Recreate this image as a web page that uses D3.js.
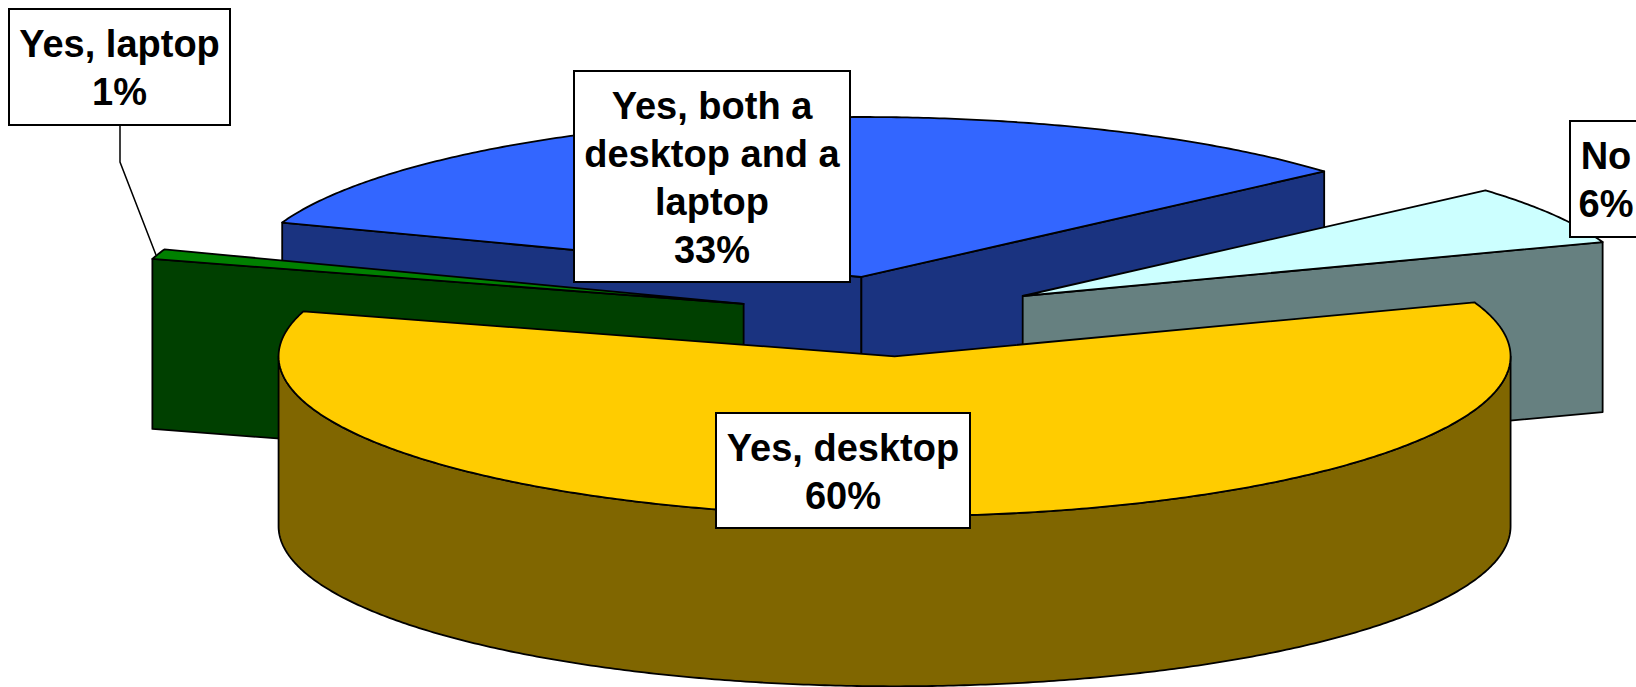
<!DOCTYPE html>
<html>
<head>
<meta charset="utf-8">
<script src="https://cdn.jsdelivr.net/npm/d3@7"></script>
<style>
  html, body { margin: 0; padding: 0; background: #fff; overflow: hidden; }
  text { font-family: "Liberation Sans", Arial, Helvetica, sans-serif; font-weight: bold; }
</style>
</head>
<body>
<svg id="chart" width="1636" height="687"></svg>
<script>
// ---- data ----
const categories = ["Yes, desktop", "Yes, laptop", "Yes, both a desktop and a laptop", "No"];
const values = [60, 1, 33, 6];
const labelLines = [["Yes, desktop"], ["Yes, laptop"], ["Yes, both a", "desktop and a", "laptop"], ["No"]];
const topColors = ["#FFCC00", "#008000", "#3366FF", "#CCFFFF"];
const sideColors = ["#806600", "#004000", "#1A3380", "#668080"];

// ---- layout ----
const W = 1636, H = 687;
const cx = 890, cy = 316.3;        // pie centre on screen
const rx = 616, ry = 160;          // ellipse radii of the tilted top face
const depth = 170;                 // thickness of the pie
const explode = 0.25;              // slice offset, as a fraction of the radius
const startDeg = 70.3;
const labelBoxes = [
  { x: 716, y: 413, w: 254, h: 115 },
  { x: 9,   y: 9,   w: 221, h: 116 },
  { x: 574, y: 71,  w: 276, h: 211 },
  { x: 1570, y: 121, w: 72, h: 116 }
];
const leaders = { 1: [[120, 125], [120, 162], [156, 255]] };
const lineStep = 48;

const svg = d3.select("#chart");
svg.append("rect").attr("width", W).attr("height", H).attr("fill", "#fff");

const a0 = startDeg * Math.PI / 180;
const pie = d3.pie().sort(null).startAngle(a0).endAngle(a0 + 2 * Math.PI);
const arcs = pie(values).map((d, i) => {
  const mid = (d.startAngle + d.endAngle) / 2;
  return {
    i, a0: d.startAngle, a1: d.endAngle,
    ox: cx + explode * rx * Math.sin(mid),
    oy: cy - explode * ry * Math.cos(mid)
  };
});

function pt(s, t, z) {
  return [s.ox + rx * Math.sin(t), s.oy - ry * Math.cos(t) + z];
}
function arcPts(s, t0, t1, z) {
  const n = Math.max(2, Math.ceil(Math.abs(t1 - t0) / (Math.PI / 360)));
  const out = [];
  for (let k = 0; k <= n; k++) out.push(pt(s, t0 + (t1 - t0) * k / n, z));
  return out;
}
const line = d3.line().curve(d3.curveLinearClosed);

function face(g, pts, fill) {
  g.append("path").attr("d", line(pts))
    .attr("fill", fill).attr("stroke", "#000")
    .attr("stroke-width", 1.8).attr("stroke-linejoin", "round");
}

// paint from back to front
const order = arcs.slice().sort((a, b) => a.oy - b.oy);
const gPie = svg.append("g");

order.forEach(s => {
  const g = gPie.append("g");
  const side = sideColors[s.i];
  const apexT = [s.ox, s.oy], apexB = [s.ox, s.oy + depth];

  // radial cut faces that face the viewer
  if (Math.sin(s.a0) < 0) {
    face(g, [apexT, pt(s, s.a0, 0), pt(s, s.a0, depth), apexB], side);
  }
  if (Math.sin(s.a1) > 0) {
    face(g, [apexT, pt(s, s.a1, 0), pt(s, s.a1, depth), apexB], side);
  }

  // curved outer wall on the front half
  for (let k = -1; k <= 2; k++) {
    const f0 = Math.PI / 2 + 2 * Math.PI * k, f1 = 1.5 * Math.PI + 2 * Math.PI * k;
    const t0 = Math.max(s.a0, f0), t1 = Math.min(s.a1, f1);
    if (t1 > t0) {
      const topArc = arcPts(s, t0, t1, 0);
      const botArc = arcPts(s, t1, t0, depth);
      face(g, topArc.concat(botArc), side);
    }
  }

  // top face
  face(g, [apexT].concat(arcPts(s, s.a0, s.a1, 0)), topColors[s.i]);
});

// ---- labels ----
const gLab = svg.append("g");
Object.entries(leaders).forEach(([i, pts]) => {
  gLab.append("path").attr("d", d3.line()(pts))
    .attr("fill", "none").attr("stroke", "#000").attr("stroke-width", 1.5);
});

categories.forEach((c, i) => {
  const b = labelBoxes[i];
  const g = gLab.append("g");
  g.append("rect").attr("x", b.x).attr("y", b.y).attr("width", b.w).attr("height", b.h)
    .attr("fill", "#fff").attr("stroke", "#000").attr("stroke-width", 2);
  const lines = labelLines[i].concat([values[i] + "%"]);
  const t = g.append("text").attr("text-anchor", "middle")
    .attr("font-size", 38).attr("fill", "#000");
  lines.forEach((l, j) => {
    t.append("tspan").attr("x", b.x + b.w / 2).attr("y", b.y + 48 + j * lineStep).text(l);
  });
});
</script>
</body>
</html>
